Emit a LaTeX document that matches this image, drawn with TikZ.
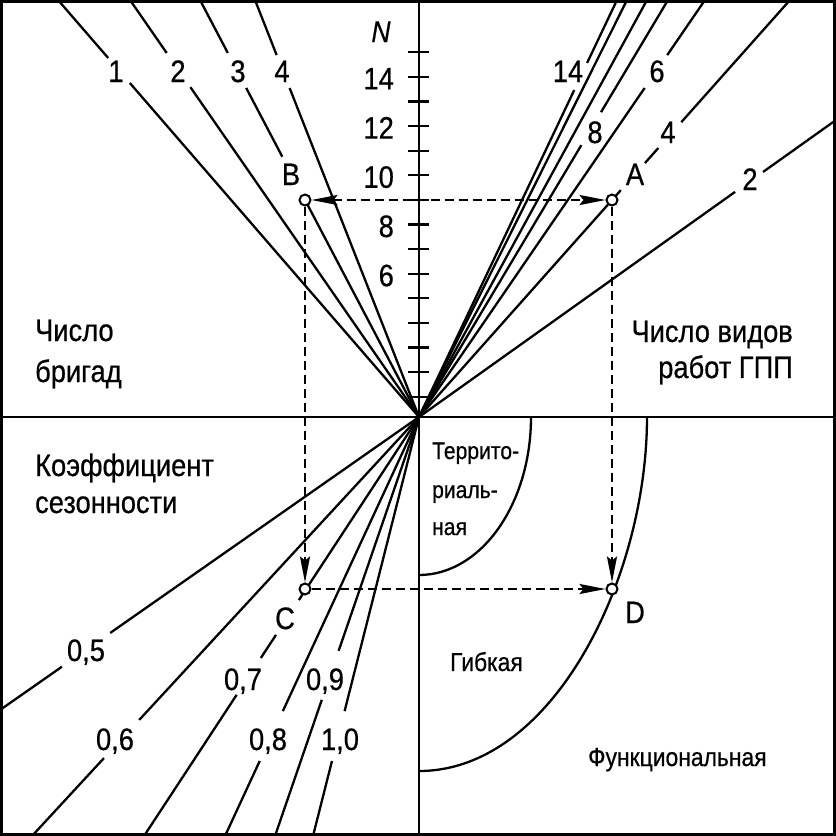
\documentclass[tikz,border=0pt]{standalone}
\usepackage{fontspec}
\setmainfont{Liberation Sans}[FakeStretch=0.88,FakeBold=0.6]
\usetikzlibrary{calc,arrows.meta}
\begin{document}
\begin{tikzpicture}[x=1pt,y=-1pt,line width=2.3pt,
  lbl/.style={inner sep=0pt,anchor=base,font=\fontsize{31}{31}\selectfont},
  sm/.style={inner sep=0pt,anchor=base west,font=\fontsize{24}{24}\selectfont},
  smb/.style={inner sep=0pt,anchor=base west,font=\fontsize{26}{26}\selectfont},
  pt/.style={circle,draw,fill=white,minimum size=11pt,inner sep=0pt,line width=2pt},
  guide/.style={dash pattern=on 9pt off 5pt,line width=2.3pt},
  ntip/.tip={Stealth[length=26pt,width=10pt,inset=4pt]}]
\useasboundingbox (0,0) rectangle (836,836);
% frame and axes
\draw[line width=3pt] (1.5,1.5) rectangle (834.5,834.5);
\coordinate (O) at (419,417);
\draw (0,417) -- (836,417);
\draw (419,0) -- (419,836);
\foreach \k in {1,...,15} \draw (408,{421.3-24.6*\k}) -- (429,{421.3-24.6*\k});
\foreach \k in {6,8,...,14} \node[lbl,anchor=base east] at (395,{421.3-24.6*\k+12.5}) {\k};
\node[inner sep=0pt,anchor=base,font=\fontsize{30}{30}\selectfont\itshape] at (381,42) {N};
% end points
\coordinate (L1) at (58,0);  \coordinate (L2) at (130,0);
\coordinate (L3) at (200,0); \coordinate (L4) at (255,0);
\coordinate (R2) at (836,120); \coordinate (R4) at (790,0);
\coordinate (R6) at (705,0);   \coordinate (R8) at (668,0);
\coordinate (R10) at (647,0);  \coordinate (R12) at (627,0);
\coordinate (R14) at (617,0);
\coordinate (K5) at (0,710);   \coordinate (K6) at (32,836);
\coordinate (K7) at (144,836); \coordinate (K8) at (225,836);
\coordinate (K9) at (275,836); \coordinate (K10) at (313,836);
% brigades (top left)
\draw (O) -- ($(O)!0.801!(L1)$) ($(O)!0.861!(L1)$) -- (L1);
\draw (O) -- ($(O)!0.791!(L2)$) ($(O)!0.873!(L2)$) -- (L2);
\draw (O) -- ($(O)!0.520!(L3)$) ($(O)!0.624!(L3)$) -- ($(O)!0.789!(L3)$) ($(O)!0.873!(L3)$) -- (L3);
\draw (O) -- ($(O)!0.789!(L4)$) ($(O)!0.868!(L4)$) -- (L4);
% kinds of works (top right)
\draw (O) -- ($(O)!0.758!(R2)$) ($(O)!0.825!(R2)$) -- (R2);
\draw (O) -- ($(O)!0.544!(R4)$) ($(O)!0.609!(R4)$) -- ($(O)!0.645!(R4)$) ($(O)!0.707!(R4)$) -- (R4);
\draw (O) -- ($(O)!0.789!(R6)$) ($(O)!0.868!(R6)$) -- (R6);
\draw (O) -- ($(O)!0.652!(R8)$) ($(O)!0.731!(R8)$) -- (R8);
\draw (O) -- (R10);
\draw (O) -- (R12);
\draw (O) -- ($(O)!0.784!(R14)$) ($(O)!0.849!(R14)$) -- (R14);
% seasonality (bottom left)
\draw (O) -- ($(O)!0.737!(K5)$) ($(O)!0.852!(K5)$) -- (K5);
\draw (O) -- ($(O)!0.723!(K6)$) ($(O)!0.814!(K6)$) -- (K6);
\draw (O) -- ($(O)!0.437!(K7)$) ($(O)!0.520!(K7)$) -- ($(O)!0.575!(K7)$) ($(O)!0.663!(K7)$) -- (K7);
\draw (O) -- ($(O)!0.702!(K8)$) ($(O)!0.821!(K8)$) -- (K8);
\draw (O) -- ($(O)!0.558!(K9)$) ($(O)!0.675!(K9)$) -- (K9);
\draw (O) -- ($(O)!0.702!(K10)$) ($(O)!0.821!(K10)$) -- (K10);
% forms (bottom right)
\draw (531,417) arc[start angle=0,end angle=90,x radius=112,y radius=158];
\draw (647,417) .. controls (647,578) and (553,771) .. (419,771);
% line labels
\node[lbl] at (116,82) {1};
\node[lbl] at (178,82) {2};
\node[lbl] at (238,82) {3};
\node[lbl] at (282,82) {4};
\node[lbl] at (291,185) {B};
\node[lbl] at (568,82) {14};
\node[lbl] at (657,82) {6};
\node[lbl] at (595,143) {8};
\node[lbl] at (668,143) {4};
\node[lbl] at (635,185) {A};
\node[lbl] at (750,190) {2};
\node[lbl] at (86,661) {0,5};
\node[lbl] at (115,750) {0,6};
\node[lbl] at (243,690) {0,7};
\node[lbl] at (268,750) {0,8};
\node[lbl] at (325,690) {0,9};
\node[lbl] at (340,750) {1,0};
\node[lbl] at (285,629) {C};
\node[lbl] at (635,623) {D};
% quadrant titles
\node[lbl,anchor=base west] at (34,341) {Число};
\node[lbl,anchor=base west] at (34,382) {бригад};
\node[lbl,anchor=base east] at (794,342) {Число видов};
\node[lbl,anchor=base east] at (794,378) {работ ГПП};
\node[lbl,anchor=base west] at (34,476) {Коэффициент};
\node[lbl,anchor=base west] at (34,513) {сезонности};
\node[sm] at (431,459) {Террито-};
\node[sm] at (431,498) {риаль-};
\node[sm] at (431,535) {ная};
\node[smb] at (449,671) {Гибкая};
\node[smb] at (587,766) {Функциональная};
% points
\node[pt] (B) at (305,200) {};
\node[pt] (A) at (612,200) {};
\node[pt] (C) at (305,589) {};
\node[pt] (D) at (612,589) {};
% construction path
\draw[guide,ntip-ntip] (B) -- (A);
\draw[guide,-ntip] (B) -- (C);
\draw[guide,-ntip] (A) -- (D);
\draw[guide,-ntip] (C) -- (D);
\end{tikzpicture}
\end{document}
